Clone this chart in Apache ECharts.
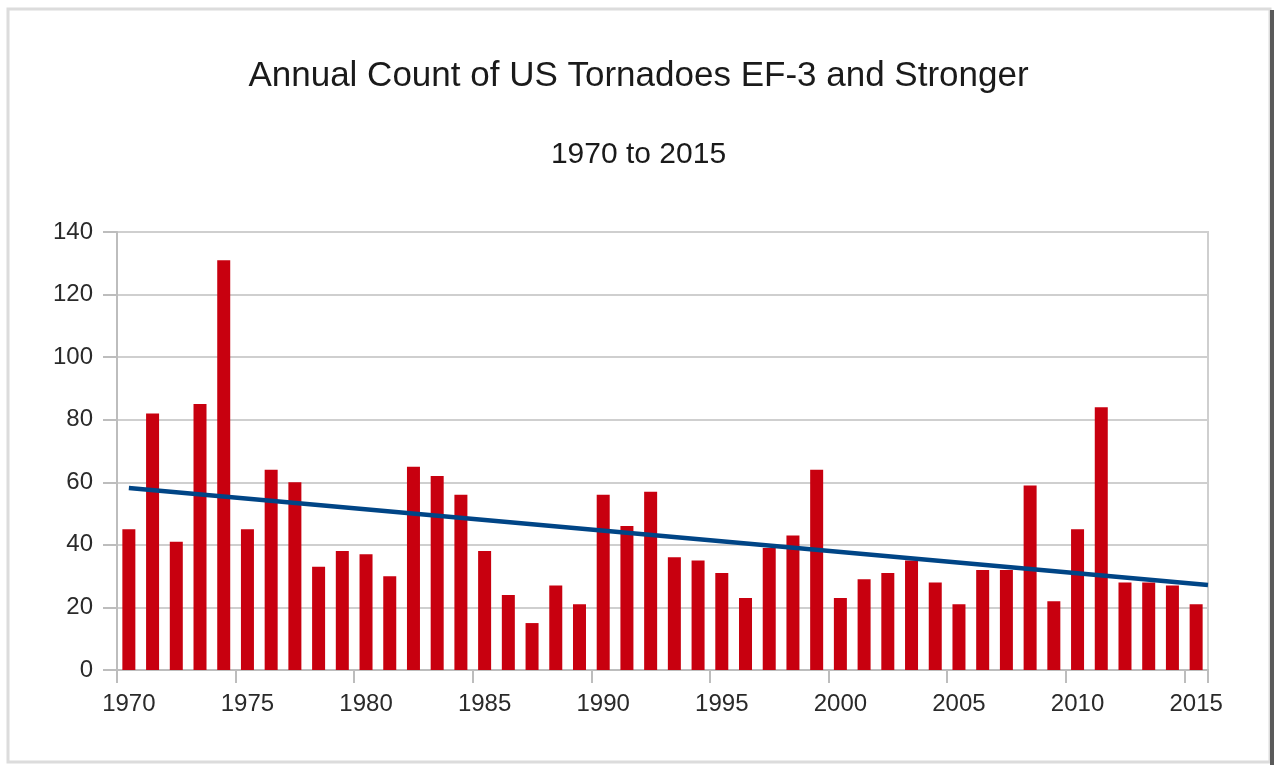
<!DOCTYPE html>
<html>
<head>
<meta charset="utf-8">
<script src="https://cdn.jsdelivr.net/npm/echarts@6/dist/echarts.min.js"></script>
<style>
  html, body { margin: 0; padding: 0; background: #fff; }
  #main { width: 1277px; height: 765px; }
</style>
</head>
<body>
<div id="main"></div>
<script>
// annual counts
const years = [
  '1970', '1971', '1972', '1973', '1974', '1975', '1976', '1977', '1978', '1979',
  '1980', '1981', '1982', '1983', '1984', '1985', '1986', '1987', '1988', '1989',
  '1990', '1991', '1992', '1993', '1994', '1995', '1996', '1997', '1998', '1999',
  '2000', '2001', '2002', '2003', '2004', '2005', '2006', '2007', '2008', '2009',
  '2010', '2011', '2012', '2013', '2014', '2015'
];
const counts = [
  45, 82, 41, 85, 131, 45, 64, 60, 33, 38,
  37, 30, 65, 62, 56, 38, 24, 15, 27, 21,
  56, 46, 57, 36, 35, 31, 23, 39, 43, 64,
  23, 29, 31, 35, 28, 21, 32, 32, 59, 22,
  45, 84, 28, 28, 27, 21
];
// trend line end points (year, count)
const trendYears = [1970, 2015.5];
const trendValues = [58.2, 27.2];

const yTicks = [0, 20, 40, 60, 80, 100, 120, 140];

const chart = echarts.init(document.getElementById('main'));
const font = '"Liberation Sans", Arial, sans-serif';

const option = {
  backgroundColor: '#ffffff',
  animation: false,
  textStyle: { fontFamily: font },
  title: [
    {
      text: 'Annual Count of US Tornadoes EF-3 and Stronger',
      left: 'center',
      top: 54,
      textStyle: { fontSize: 35, fontWeight: 'normal', color: '#1a1a1a', fontFamily: font }
    },
    {
      text: '1970 to 2015',
      left: 'center',
      top: 135,
      textStyle: { fontSize: 30, fontWeight: 'normal', color: '#1a1a1a', fontFamily: font }
    }
  ],
  grid: {
    left: 117,
    right: 69,
    top: 232,
    bottom: 95,
    show: true,
    borderColor: '#cfcfcf',
    borderWidth: 2
  },
  xAxis: [
    {
      type: 'category',
      data: years,
      boundaryGap: true,
      axisLine: { lineStyle: { color: '#bdbdbd', width: 2 } },
      axisTick: { show: true, interval: 4, length: 13, lineStyle: { color: '#bdbdbd', width: 2 } },
      axisLabel: { interval: 4, fontSize: 24, color: '#2a2a2a', margin: 22, fontFamily: font },
      splitLine: { show: false }
    },
    {
      type: 'value',
      min: 1969.5,
      max: 2015.5,
      show: false
    }
  ],
  yAxis: {
    type: 'value',
    min: yTicks[0],
    max: yTicks[yTicks.length - 1],
    interval: 20,
    axisLine: { show: true, lineStyle: { color: '#bdbdbd', width: 2 } },
    axisTick: { show: true, length: 14, lineStyle: { color: '#bdbdbd', width: 2 } },
    axisLabel: { fontSize: 24, color: '#2a2a2a', margin: 24, fontFamily: font },
    splitLine: { lineStyle: { color: '#cfcfcf', width: 2 } }
  },
  series: [
    {
      type: 'bar',
      data: counts,
      barWidth: 13,
      itemStyle: { color: '#c8000f' }
    },
    {
      type: 'line',
      xAxisIndex: 1,
      data: trendYears.map((y, i) => [y, trendValues[i]]),
      symbol: 'none',
      lineStyle: { color: '#004586', width: 4.5 },
      z: 5
    }
  ],
  graphic: [
    {
      type: 'rect',
      shape: { x: 8, y: 9, width: 1262, height: 753 },
      style: { fill: 'none', stroke: '#dcdcdc', lineWidth: 3 },
      silent: true
    },
    {
      type: 'rect',
      shape: { x: 1270, y: 10, width: 4, height: 755 },
      style: { fill: '#5a5a5a' },
      silent: true
    }
  ]
};

chart.setOption(option);
</script>
</body>
</html>
